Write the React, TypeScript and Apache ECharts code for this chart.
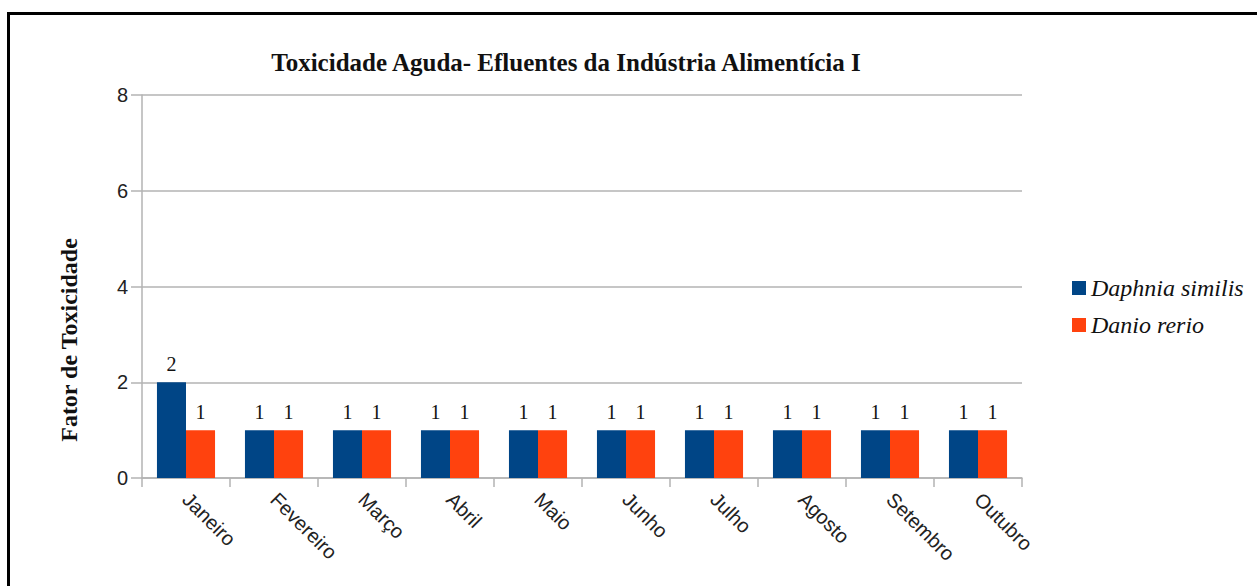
import React, { useEffect, useRef } from "react";
import * as echarts from "echarts";

const months = ["Janeiro", "Fevereiro", "Março", "Abril", "Maio", "Junho", "Julho", "Agosto", "Setembro", "Outubro"];
const daphnia = [2, 1, 1, 1, 1, 1, 1, 1, 1, 1];
const danio = [1, 1, 1, 1, 1, 1, 1, 1, 1, 1];
const seriesNames = ["Daphnia similis", "Danio rerio"];
const titleText = "Toxicidade Aguda- Efluentes da Indústria Alimentícia I";
const yAxisName = "Fator de Toxicidade";

export default function App() {
  const ref = useRef<HTMLDivElement>(null);
  useEffect(() => {
    if (!ref.current) return;
    const chart = echarts.init(ref.current, undefined, { renderer: "svg" });
    const labelStyle = {
      show: true,
      position: "top" as const,
      distance: 8,
      fontFamily: "Liberation Serif",
      fontSize: 20,
      color: "#111",
    };
    chart.setOption({
      animation: false,
      backgroundColor: "#fff",
      title: {
        text: titleText,
        left: 561,
        top: 45,
        textAlign: "center",
        textStyle: { fontFamily: "Liberation Serif", fontWeight: "bold", fontSize: 25, color: "#111" },
      },
      legend: {
        orient: "vertical",
        left: 1072,
        top: 276,
        padding: 0,
        itemWidth: 14,
        itemHeight: 14,
        itemGap: 13,
        icon: "rect",
        textStyle: { fontFamily: "Liberation Serif", fontStyle: "italic", fontSize: 24, color: "#111", padding: [0, 0, 0, 0] },
        data: seriesNames,
      },
      grid: { left: 142, right: 235, top: 95, bottom: 108 },
      xAxis: {
        type: "category",
        data: months,
        axisLine: { lineStyle: { color: "#b3b3b3", width: 1.5 } },
        axisTick: { show: true, length: 9, lineStyle: { color: "#b3b3b3", width: 1.5 } },
        axisLabel: {
          interval: 0,
          rotate: -45,
          margin: 18,
          fontFamily: "Liberation Sans",
          fontSize: 20,
          color: "#222",
        },
      },
      yAxis: {
        type: "value",
        min: 0,
        max: 8,
        interval: 2,
        axisLine: { show: true, lineStyle: { color: "#b3b3b3", width: 1.5 } },
        axisTick: { show: true, length: 11, lineStyle: { color: "#b3b3b3", width: 1.5 } },
        splitLine: { show: true, lineStyle: { color: "#b3b3b3", width: 1.5 } },
        axisLabel: { margin: 14, fontFamily: "Liberation Sans", fontSize: 20, color: "#222" },
      },
      series: [
        {
          name: seriesNames[0],
          type: "bar",
          data: daphnia,
          itemStyle: { color: "#004586" },
          barGap: "0%",
          barCategoryGap: "34%",
          label: labelStyle,
        },
        {
          name: seriesNames[1],
          type: "bar",
          data: danio,
          itemStyle: { color: "#ff420e" },
          label: labelStyle,
        },
      ],
      graphic: [
        {
          type: "rect",
          shape: { x: 8.5, y: 13.5, width: 1400, height: 800 },
          style: { fill: "none", stroke: "#000", lineWidth: 3 },
          silent: true,
        },
        {
          type: "text",
          x: 69,
          y: 340,
          rotation: Math.PI / 2,
          silent: true,
          style: {
            text: yAxisName,
            fontFamily: "Liberation Serif",
            fontWeight: "bold",
            fontSize: 24,
            fill: "#111",
            align: "center",
            verticalAlign: "middle",
          },
        },
      ],
    });
    return () => chart.dispose();
  }, []);
  return <div ref={ref} style={{ position: "absolute", left: 0, top: 0, width: 1257, height: 586 }} />;
}
